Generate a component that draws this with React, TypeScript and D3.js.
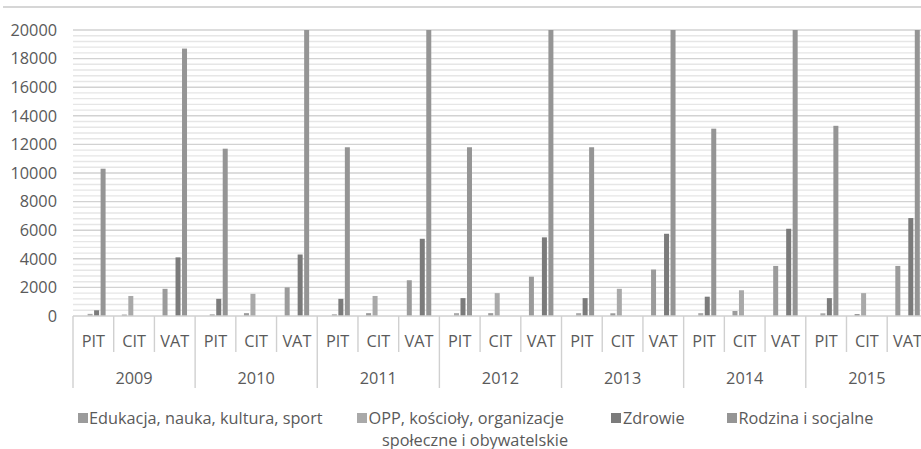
import React, { useEffect } from "react";
import * as d3 from "d3";

// Tax relief amounts by year, tax type and purpose
const years = ["2009", "2010", "2011", "2012", "2013", "2014", "2015"];
const taxes = ["PIT", "CIT", "VAT"];

const seriesNames = [
  "Edukacja, nauka, kultura, sport",
  "OPP, kościoły, organizacje społeczne i obywatelskie",
  "Zdrowie",
  "Rodzina i socjalne",
];

// values listed year by year, in PIT, CIT, VAT order
const edukacja = [0, 100, 1900, 0, 200, 2000, 0, 200, 2500, 0, 200, 2750, 0, 190, 3250, 0, 350, 3500, 0, 140, 3500];
const opp = [150, 1400, 0, 120, 1550, 0, 120, 1400, 0, 200, 1600, 0, 200, 1900, 0, 200, 1800, 0, 190, 1600, 0];
const zdrowie = [400, 0, 4100, 1200, 0, 4300, 1200, 0, 5400, 1250, 0, 5500, 1250, 0, 5750, 1350, 0, 6100, 1250, 0, 6850];
const rodzina = [10300, 0, 18700, 11700, 0, 21000, 11800, 0, 22500, 11800, 0, 23000, 11800, 0, 24000, 13100, 0, 25000, 13300, 0, 26000];

const yTicks = [0, 2000, 4000, 6000, 8000, 10000, 12000, 14000, 16000, 18000, 20000];
const seriesColors = ["#9b9b9b", "#a9a9a9", "#7b7b7b", "#959595"];

const FONT = "'Open Sans', 'DejaVu Sans', sans-serif";
const TEXT = "#5a5a5a";

export default function App() {
  useEffect(() => {
    document.body.style.margin = "0";
  }, []);

  const width = 921;
  const height = 449;
  const left = 73;
  const catStep = 40.71;
  const yTop = 30;
  const yBase = 316;

  const categories = years.flatMap((yr) => taxes.map((t) => `${yr}|${t}`));
  const seriesValues = [edukacja, opp, zdrowie, rodzina];

  const x0 = d3
    .scaleBand<string>()
    .domain(categories)
    .range([left, left + catStep * categories.length])
    .paddingInner(0)
    .paddingOuter(0);

  const x1 = d3
    .scaleBand<number>()
    .domain([0, 1, 2, 3])
    .range([0, x0.bandwidth()])
    .paddingInner(0.23)
    .paddingOuter(1.25);

  // values above the axis maximum are cut at the top of the plot
  const y = d3.scaleLinear().domain([0, 20000]).range([yBase, yTop]).clamp(true);

  const minorTicks = d3.range(400, 20001, 400).filter((v) => v % 2000 !== 0);
  const majorTicks = yTicks.filter((v) => v > 0);

  return (
    <svg
      width={width}
      height={height}
      style={{ position: "absolute", left: 0, top: 0, background: "#fff" }}
      fontFamily={FONT}
    >
      {/* chart frame top edge */}
      <line x1={3} x2={width} y1={7} y2={7} stroke="#d6d6d6" strokeWidth={2} />

      {/* gridlines */}
      {minorTicks.map((v) => (
        <line key={`mi${v}`} x1={left} x2={width} y1={y(v)} y2={y(v)} stroke="#e6e6e6" strokeWidth={1.4} />
      ))}
      {majorTicks.map((v) => (
        <line key={`ma${v}`} x1={left} x2={width} y1={y(v)} y2={y(v)} stroke="#d2d2d2" strokeWidth={1.4} />
      ))}

      {/* y tick labels */}
      {yTicks.map((v) => (
        <text key={`yt${v}`} x={57} y={y(v)} dy="0.35em" textAnchor="end" fontSize={16.3} fill={TEXT}>
          {v}
        </text>
      ))}

      {/* bars */}
      {seriesValues.map((vals, s) =>
        vals.map((v, i) => {
          if (v <= 0) return null;
          const cx = (x0(categories[i]) as number) + (x1(s) as number);
          const top = y(v);
          return (
            <rect
              key={`b${s}-${i}`}
              x={cx}
              y={top}
              width={x1.bandwidth()}
              height={yBase - top}
              fill={seriesColors[s]}
            />
          );
        })
      )}

      {/* category axis */}
      <line x1={left} x2={width} y1={yBase} y2={yBase} stroke="#d0d0d0" strokeWidth={1.4} />
      {d3.range(categories.length + 1).map((i) => {
        const xx = left + i * x0.step();
        const isYear = i % 3 === 0;
        return (
          <line
            key={`sep${i}`}
            x1={xx}
            x2={xx}
            y1={yBase}
            y2={isYear ? 388 : 352}
            stroke="#d0d0d0"
            strokeWidth={1.4}
          />
        );
      })}
      {categories.map((c) => (
        <text
          key={`cl${c}`}
          x={(x0(c) as number) + x0.bandwidth() / 2}
          y={346.5}
          textAnchor="middle"
          fontSize={16.3}
          fill={TEXT}
        >
          {c.split("|")[1]}
        </text>
      ))}
      {years.map((yr) => {
        const start = x0(`${yr}|PIT`) as number;
        return (
          <text
            key={`yl${yr}`}
            x={start + (x0.step() * 3) / 2}
            y={384}
            textAnchor="middle"
            fontSize={16.3}
            fill={TEXT}
          >
            {yr}
          </text>
        );
      })}

      {/* legend */}
      <g fontSize={16.3} fill={TEXT}>
        <rect x={78} y={413} width={10} height={10} fill={seriesColors[0]} />
        <text x={89} y={423.5}>{seriesNames[0]}</text>

        <rect x={357} y={413} width={10} height={10} fill={seriesColors[1]} />
        <text x={368.5} y={423.5}>OPP, kościoły, organizacje</text>
        <text x={475} y={445.5} textAnchor="middle">społeczne i obywatelskie</text>

        <rect x={611} y={413} width={10} height={10} fill={seriesColors[2]} />
        <text x={623} y={423.5}>{seriesNames[2]}</text>

        <rect x={727} y={413} width={10} height={10} fill={seriesColors[3]} />
        <text x={738.5} y={423.5}>{seriesNames[3]}</text>
      </g>
    </svg>
  );
}
